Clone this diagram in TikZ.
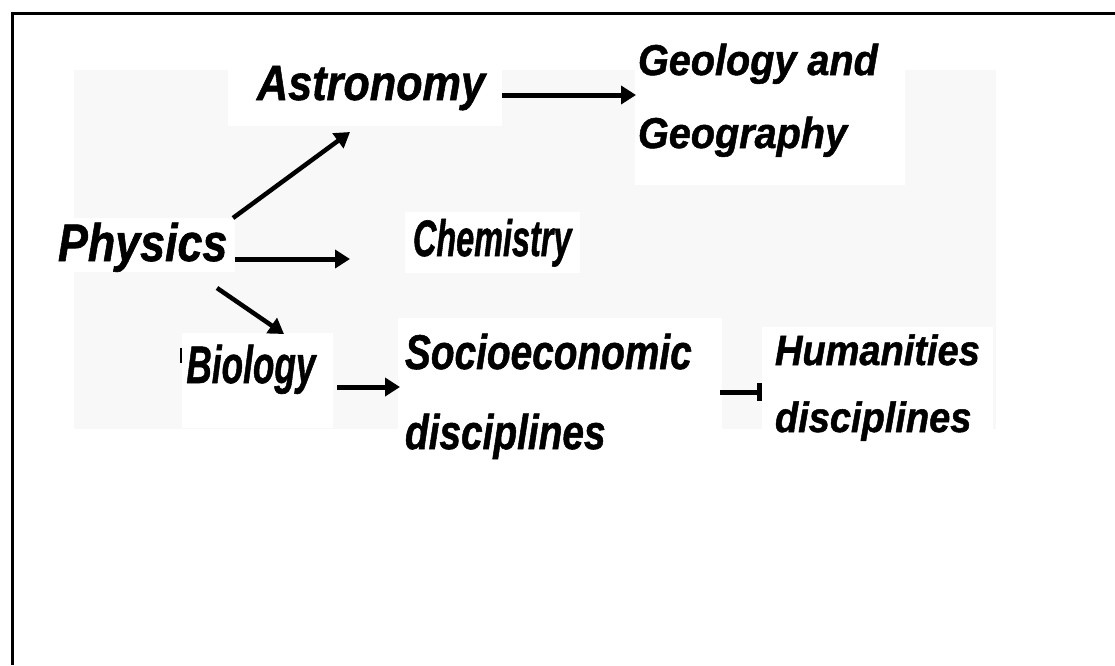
\documentclass[tikz,border=0pt]{standalone}
\usepackage{fontspec}
\setmainfont{Liberation Sans}[BoldItalicFeatures={FakeBold=1.2}]
\usetikzlibrary{arrows.meta,calc}
\definecolor{bgray}{RGB}{248,248,248}
\begin{document}
\begin{tikzpicture}[x=1pt,y=-1pt,
  lbl/.style={anchor=base west,inner sep=0pt,outer sep=0pt,font=\fontsize{40}{48}\selectfont\bfseries\itshape},
  arr/.style={line width=5pt,-{Triangle[length=15pt,width=18pt]}},
  darr/.style={line width=4.5pt,-{Triangle[length=15pt,width=18pt]}},
  barr/.style={line width=5pt,-{Bar[width=18pt]}}]
\useasboundingbox (0,0) rectangle (1115,665);
\fill[white] (0,0) rectangle (1115,665);
\fill[bgray] (74,70) rectangle (996,429);
% white patches behind the texts
\fill[white] (228,62) rectangle (502,126);
\fill[white] (635,40) rectangle (905,185);
\fill[white] (50,218) rectangle (235,272);
\fill[white] (405,212) rectangle (580,273);
\fill[white] (182,333) rectangle (333,428);
\fill[white] (398,318) rectangle (722,470);
\fill[white] (762,327) rectangle (993,440);
% frame
\draw[line width=3pt] (12,665) -- (12,13.5) -- (1115,13.5);
% labels
\node[lbl] (phys) at (58,261) {\scalebox{1.12}[1.32]{Physics}};
\node[lbl] (ast) at (257,100) {\scalebox{1.08}[1.24]{Astronomy}};
\node[lbl] (geo) at (638,75) {\scalebox{0.99}[1.08]{\fontsize{40}{67.6}\selectfont\begin{tabular}[t]{@{}l@{}}Geology and\\Geography\end{tabular}}};
\node[lbl] (chem) at (413,256) {\scalebox{0.81}[1.28]{Chemistry}};
\node[lbl] (bio) at (180,383) {\scalebox{0.88}[1.32]{\rule[15.2pt]{2.8pt}{11.4pt}\kern4.5pt Biology}};
\node[lbl] (soc) at (405,369) {\scalebox{0.97}[1.22]{\fontsize{40}{65.6}\selectfont\begin{tabular}[t]{@{}l@{}}Socioeconomic\\disciplines\end{tabular}}};
\node[lbl] (hum) at (775,365) {\scalebox{0.95}[1.06]{\fontsize{40}{63.2}\selectfont\begin{tabular}[t]{@{}l@{}}Humanities\\disciplines\end{tabular}}};
% connectors
\draw[darr] ($(phys.base west)+(175,-43)$) -- ($(ast.base west)+(93,32)$);
\draw[arr] ($(phys.base west)+(177,-2)$) -- ($(chem.base west)+(-63,3)$);
\draw[darr] ($(phys.base west)+(159,27)$) -- ($(bio.base west)+(104,-49)$);
\draw[arr] ($(ast.base west)+(245,-5)$) -- ($(geo.base west)+(-2,20)$);
\draw[arr] ($(bio.base west)+(157,4)$) -- ($(soc.base west)+(-5,18)$);
\draw[barr] ($(soc.base west)+(315,23)$) -- ($(hum.base west)+(-13,27)$);
\end{tikzpicture}
\end{document}
